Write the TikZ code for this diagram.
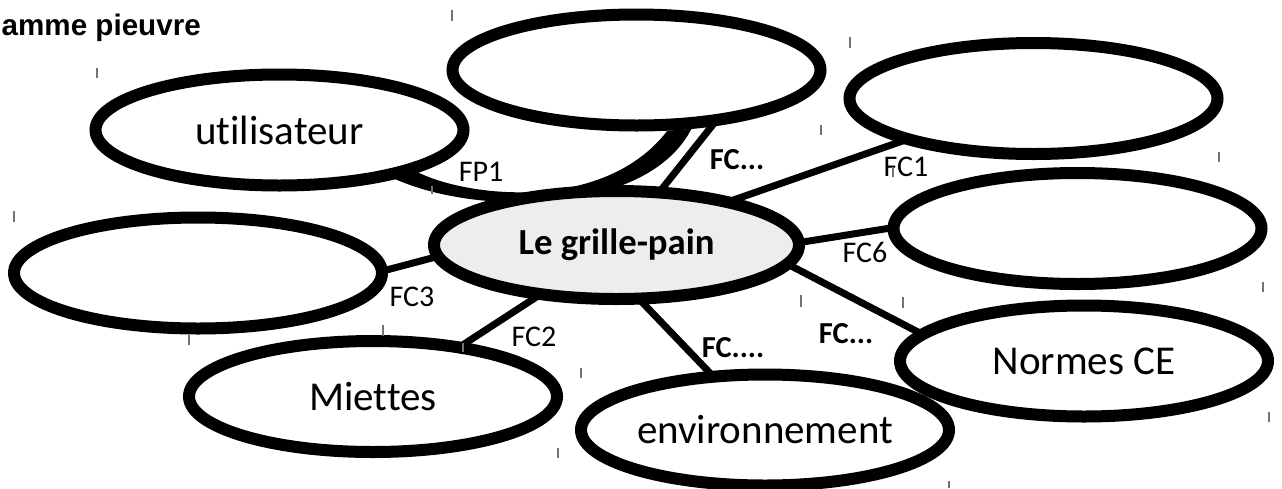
\documentclass[tikz,border=0pt]{standalone}
\usepackage{fontspec}
\setmainfont{Carlito}[Ligatures=NoCommon]
\newfontfamily\titlefont{Liberation Sans}
\usetikzlibrary{shapes.geometric}
\definecolor{hubgray}{HTML}{EDEDED}
\pgfdeclarelayer{bg}
\pgfsetlayers{bg,main}
\begin{document}
\begin{tikzpicture}[x=1pt,y=-1pt,
  bubble/.style={ellipse, draw, line width=12pt, fill=white, minimum width=368pt, minimum height=111pt, inner sep=0pt, font=\fontsize{41}{49}\selectfont},
  hub/.style={bubble, fill=hubgray, minimum width=365pt, minimum height=108pt, font=\fontsize{36.7}{44}\selectfont\bfseries},
  link/.style={line width=7pt, shorten <=-5pt, shorten >=-5pt},
  lab/.style={inner sep=0pt, font=\fontsize{30}{36}\selectfont},
  blab/.style={inner sep=0pt, font=\fontsize{30.5}{36}\selectfont\bfseries},
  tickmark/.style={line width=1.2pt, black!55}]
\useasboundingbox (0,0) rectangle (1282,488);

% bubbles
\node[bubble] (util) at (279.5,130) {utilisateur};
\node[bubble] (nTop) at (636.5,70) {};
\node[bubble] (nTR) at (1033.5,98.5) {};
\node[bubble] (nRight) at (1077.5,228.5) {};
\node[bubble] (normes) at (1084,361) {Normes CE};
\node[bubble] (env) at (765,430) {environnement};
\node[bubble] (miettes) at (373,396.5) {Miettes};
\node[bubble] (nLeft) at (198,273) {};
\node[hub] (hub) at (616.5,245) {Le grille-pain};

% connectors
\begin{pgfonlayer}{bg}
\draw[link] (hub.184) -- (nLeft.1);
\draw[link] (hub.213) -- (miettes.30);
\draw[link] (hub.-65) -- (env.134);
\draw[link] (hub.-7) -- (normes.170);
\draw[link] (hub.1) -- (nRight.180);
\draw[link] (hub.21) -- (nTR.198);
\draw[link] (hub.51) -- (nTop.323);
\fill (util.-17) .. controls (470,198) and (605,212) .. (nTop.-63)
  -- (nTop.-47) .. controls (648,214) and (480,217) .. (util.-23) -- cycle;
\end{pgfonlayer}

% labels
\node[lab] (lFP1) at (481,172) {FP1};
\node[blab] (lFCt) at (737,160) {FC...};
\node[lab] (lFC1) at (906,167) {FC1};
\node[lab] (lFC6) at (865,252) {FC6};
\node[lab] (lFC3) at (412,297) {FC3};
\node[lab] (lFC2) at (534,337) {FC2};
\node[blab] (lFCe) at (733,348) {FC....};
\node[blab] (lFCn) at (846,334) {FC...};

% title
\node[anchor=base west, inner sep=0pt, font=\titlefont\bfseries\fontsize{29.6}{36}\selectfont] (title) at (1.5,35) {amme pieuvre};

% small tick marks
\foreach \x/\ya/\yb in {97/68/78, 452/10/21, 850/37/48, 821/125/135, 1219/152/162,
  14/211/222, 189/335/345, 383/325/336, 463/343/352, 581/368/378, 558/448/458,
  801/295/307, 903/297/308, 949/481/488, 1263/282/292, 1269/412/422, 893/167/177, 432/186/194}
  \draw[tickmark] (\x,\ya) -- (\x,\yb);
\end{tikzpicture}
\end{document}
